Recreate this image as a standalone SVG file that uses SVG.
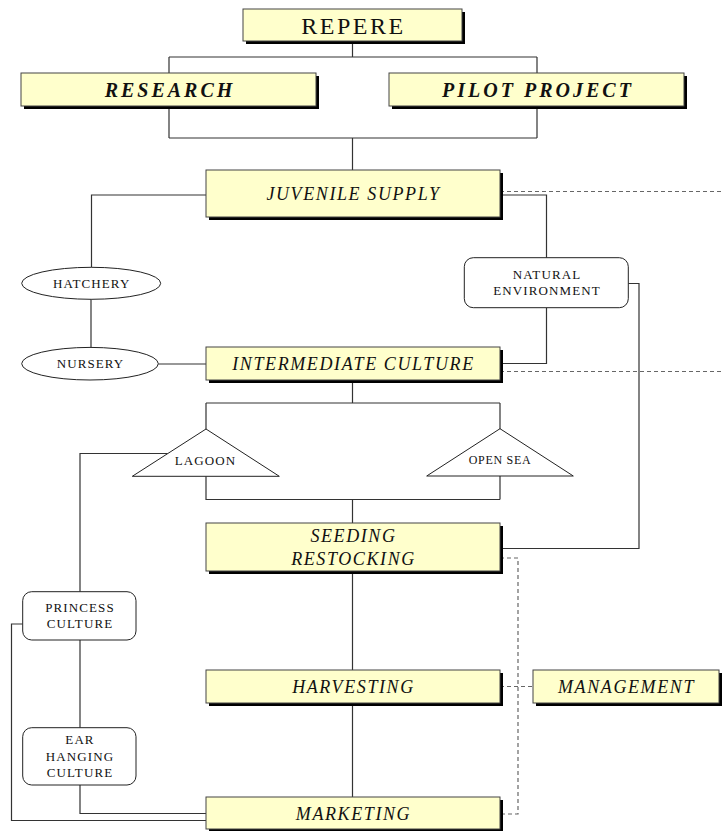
<svg xmlns="http://www.w3.org/2000/svg" width="722" height="831" viewBox="0 0 722 831">
<style>
  .shadow { fill: #000; }
  .box { fill: #ffffcc; stroke: #444; stroke-width: 1; }
  .plain { fill: #fff; stroke: #222; stroke-width: 1; }
  .conn { fill: none; stroke: #333; stroke-width: 1.2; }
  .dash { fill: none; stroke: #666; stroke-width: 1.2; stroke-dasharray: 4 3; }
  text { font-family: "Liberation Serif", "Times New Roman", serif; fill: #111; text-anchor: middle; }
  .title { font-size: 24px; letter-spacing: 2.5px; }
  .bi { font-size: 20px; font-weight: bold; font-style: italic; letter-spacing: 3px; }
  .it { font-size: 18px; font-style: italic; letter-spacing: 1.6px; }
  .sm { font-size: 13px; letter-spacing: 1.1px; }
  .xs { font-size: 12px; letter-spacing: 0.7px; }
</style>

<g id="connectors">
  <path class="conn" d="M352.5,41 V57 M169,57 H537 M169,57 V73 M537,57 V73"/>
  <path class="conn" d="M169,106 V138 M537,106 V138 M169,138 H537 M352.5,138 V170"/>
  <path class="conn" d="M206,195 H91.5 V267.3"/>
  <path class="conn" d="M91,299.3 V347.4"/>
  <path class="conn" d="M158.3,364 H206"/>
  <path class="conn" d="M500,195 H546.5 V257.7"/>
  <path class="conn" d="M546.5,307.7 V363.5 H500"/>
  <path class="conn" d="M628.3,283.5 H639 V548.5 H500"/>
  <path class="dash" d="M500,191.5 H722"/>
  <path class="dash" d="M500,371.5 H722"/>
  <path class="conn" d="M352.5,380 V403 M206,403 H500 M206,403 V429 M500,403 V429"/>
  <path class="conn" d="M206,476.3 V499.5 H500 M500,476 V499.5 M352.5,499.5 V523"/>
  <path class="conn" d="M167.5,453.5 H80 V591.7"/>
  <path class="conn" d="M80,640 V727.7"/>
  <path class="conn" d="M80,785 V813.5 H206"/>
  <path class="conn" d="M22.7,624 H11.5 V820.5 H206"/>
  <path class="conn" d="M352.5,571 V670 M352.5,703 V797"/>
  <path class="dash" d="M500,558 H518 V814 H500"/>
  <path class="dash" d="M500,686.5 H533"/>
</g>

<g id="repere">
  <rect class="shadow" x="246" y="12" width="219" height="32"/>
  <rect class="box" x="243" y="9" width="219" height="32"/>
  <text class="title" x="353.5" y="33.5">REPERE</text>
</g>

<g id="research">
  <rect class="shadow" x="24" y="76" width="295" height="33"/>
  <rect class="box" x="21" y="73" width="295" height="33"/>
  <text class="bi" x="170" y="96.5">RESEARCH</text>
</g>

<g id="pilot-project">
  <rect class="shadow" x="392" y="76" width="295" height="33"/>
  <rect class="box" x="389" y="73" width="295" height="33"/>
  <text class="bi" x="538" y="96.5">PILOT PROJECT</text>
</g>

<g id="juvenile-supply">
  <rect class="shadow" x="209" y="173" width="294" height="47"/>
  <rect class="box" x="206" y="170" width="294" height="47"/>
  <text class="it" x="353.5" y="200">JUVENILE SUPPLY</text>
</g>

<g id="hatchery">
  <ellipse class="plain" cx="91.2" cy="283.3" rx="69.5" ry="16"/>
  <text class="sm" x="91.7" y="287.5">HATCHERY</text>
</g>

<g id="nursery">
  <ellipse class="plain" cx="90" cy="363.7" rx="68.3" ry="16.3"/>
  <text class="sm" x="90.5" y="368.3">NURSERY</text>
</g>

<g id="natural-environment">
  <rect class="plain" x="464.3" y="257.7" width="164" height="50" rx="9"/>
  <text class="sm" x="547" y="279.3">NATURAL</text>
  <text class="sm" x="547" y="295">ENVIRONMENT</text>
</g>

<g id="intermediate-culture">
  <rect class="shadow" x="209" y="350" width="294" height="33"/>
  <rect class="box" x="206" y="347" width="294" height="33"/>
  <text class="it" x="353.5" y="369.5">INTERMEDIATE CULTURE</text>
</g>

<g id="lagoon">
  <polygon class="plain" points="206,429 279.3,476.3 132.3,476.3"/>
  <text class="sm" x="205.5" y="465">LAGOON</text>
</g>

<g id="open-sea">
  <polygon class="plain" points="500,428.7 573.3,476 426.7,476"/>
  <text class="xs" x="500" y="464">OPEN SEA</text>
</g>

<g id="seeding-restocking">
  <rect class="shadow" x="209" y="526" width="294" height="48"/>
  <rect class="box" x="206" y="523" width="294" height="48"/>
  <text class="it" x="353.5" y="542">SEEDING</text>
  <text class="it" x="353.5" y="565">RESTOCKING</text>
</g>

<g id="princess-culture">
  <rect class="plain" x="22.7" y="591.7" width="113.3" height="48.3" rx="9"/>
  <text class="sm" x="80" y="612.3">PRINCESS</text>
  <text class="sm" x="80" y="628.3">CULTURE</text>
</g>

<g id="harvesting">
  <rect class="shadow" x="209" y="673" width="294" height="33"/>
  <rect class="box" x="206" y="670" width="294" height="33"/>
  <text class="it" x="353.5" y="693">HARVESTING</text>
</g>

<g id="management">
  <rect class="shadow" x="536" y="673" width="186" height="33"/>
  <rect class="box" x="533" y="670" width="186" height="33"/>
  <text class="it" x="626.5" y="693">MANAGEMENT</text>
</g>

<g id="ear-hanging-culture">
  <rect class="plain" x="22.7" y="727.7" width="113.3" height="57.3" rx="9"/>
  <text class="sm" x="80" y="744.3">EAR</text>
  <text class="sm" x="80" y="761">HANGING</text>
  <text class="sm" x="80" y="776.7">CULTURE</text>
</g>

<g id="marketing">
  <rect class="shadow" x="209" y="800" width="294" height="32"/>
  <rect class="box" x="206" y="797" width="294" height="32"/>
  <text class="it" x="353.5" y="819.5">MARKETING</text>
</g>
</svg>
